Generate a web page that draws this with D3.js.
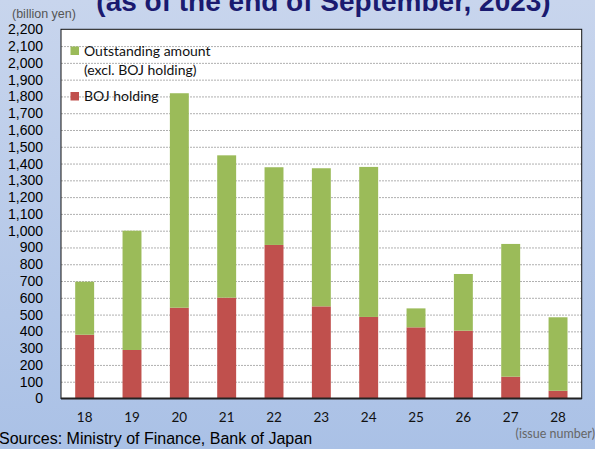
<!DOCTYPE html>
<html>
<head>
<meta charset="utf-8">
<script src="https://cdn.jsdelivr.net/npm/d3@7"></script>
<style>
  html, body { margin: 0; padding: 0; overflow: hidden; }
  svg { display: block; }
</style>
</head>
<body>
<svg id="chart" width="595" height="449"></svg>
<script>
// ---- data ----
const categories = ["18", "19", "20", "21", "22", "23", "24", "25", "26", "27", "28"];
const bojHolding = [380, 289, 541, 601, 915, 549, 486, 424, 404, 130, 46];
const outstandingExclBoj = [316, 711, 1278, 848, 463, 823, 894, 113, 338, 791, 438];
const yTicks = [0, 100, 200, 300, 400, 500, 600, 700, 800, 900, 1000, 1100, 1200, 1300, 1400, 1500, 1600, 1700, 1800, 1900, 2000, 2100, 2200];
const seriesNames = ["Outstanding amount", "BOJ holding"];
const titleText = "(as of the end of September, 2023)";
const unitText = "(billion yen)";
const xUnitText = "(issue number)";
const sourceText = "Sources: Ministry of Finance, Bank of Japan";

const colors = { outstanding: "#9bbb59", boj: "#c0504d" };

const W = 595, H = 449;
const plot = { left: 61, right: 581.7, top: 29.3, bottom: 398.5 };

const svg = d3.select("#chart");

// background gradient
const defs = svg.append("defs");
const grad = defs.append("linearGradient").attr("id", "bg").attr("x1", 0).attr("y1", 0).attr("x2", 0).attr("y2", 1);
grad.append("stop").attr("offset", "0%").attr("stop-color", "#c8d5ed");
grad.append("stop").attr("offset", "100%").attr("stop-color", "#aac1e6");
svg.append("rect").attr("width", W).attr("height", H).attr("fill", "url(#bg)");

// scales
const x = d3.scaleBand().domain(categories).range([plot.left, plot.right]).paddingInner(0.6).paddingOuter(0.3);
const y = d3.scaleLinear().domain([0, 2200]).range([plot.bottom, plot.top]);

// plot background
svg.append("rect")
  .attr("x", plot.left).attr("y", plot.top)
  .attr("width", plot.right - plot.left).attr("height", plot.bottom - plot.top)
  .attr("fill", "#ffffff");

// gridlines
const grid = svg.append("g")
  .attr("transform", `translate(${plot.left},0)`)
  .call(d3.axisLeft(y).tickValues(yTicks.filter(v => v > 0 && v < 2200)).tickSize(-(plot.right - plot.left)).tickFormat(""));
grid.select(".domain").remove();
grid.selectAll("line").attr("stroke", "#b0b0b0").attr("stroke-width", 1).attr("stroke-dasharray", "2,1");

// stacked data
const stackData = categories.map((c, i) => ({ cat: c, boj: bojHolding[i], out: outstandingExclBoj[i] }));
const stack = d3.stack().keys(["boj", "out"]);
const layers = stack(stackData);
const layerColors = [colors.boj, colors.outstanding];

svg.append("g").selectAll("g").data(layers).join("g")
  .attr("fill", (d, i) => layerColors[i])
  .selectAll("rect").data(d => d).join("rect")
  .attr("x", d => x(d.data.cat))
  .attr("width", x.bandwidth())
  .attr("y", d => y(d[1]))
  .attr("height", d => y(d[0]) - y(d[1]));

// plot border
svg.append("rect")
  .attr("x", plot.left).attr("y", plot.top)
  .attr("width", plot.right - plot.left).attr("height", plot.bottom - plot.top)
  .attr("fill", "none").attr("stroke", "#111").attr("stroke-width", 1);
svg.append("line")
  .attr("x1", plot.left).attr("x2", plot.right)
  .attr("y1", plot.bottom).attr("y2", plot.bottom)
  .attr("stroke", "#222").attr("stroke-width", 2);

// y axis labels
const yAxis = svg.append("g")
  .attr("transform", `translate(43,0)`)
  .call(d3.axisLeft(y).tickValues(yTicks).tickSize(0).tickPadding(0).tickFormat(d3.format(",")));
yAxis.select(".domain").remove();
yAxis.selectAll("text")
  .attr("font-family", "Liberation Sans, Arial, sans-serif")
  .attr("font-size", 14).attr("fill", "#000");

// x axis labels
const xAxis = svg.append("g")
  .attr("transform", `translate(0,${plot.bottom})`)
  .call(d3.axisBottom(x).tickSize(0).tickPadding(14));
xAxis.select(".domain").remove();
xAxis.selectAll("text")
  .attr("font-family", "Lato, sans-serif")
  .attr("font-size", 13.5).attr("fill", "#111");

// title
svg.append("text")
  .attr("x", 323.5).attr("y", 11)
  .attr("text-anchor", "middle")
  .attr("font-family", "Liberation Sans, Arial, sans-serif")
  .attr("font-weight", "bold").attr("font-size", 28)
  .attr("fill", "#1a1a70")
  .text(titleText);

// unit label
svg.append("text")
  .attr("x", 12).attr("y", 17.5)
  .attr("font-family", "Liberation Sans, Arial, sans-serif")
  .attr("font-size", 12.5).attr("fill", "#555")
  .text(unitText);

// x unit
svg.append("text")
  .attr("x", 595).attr("y", 438)
  .attr("text-anchor", "end")
  .attr("font-family", "Lato, sans-serif")
  .attr("font-size", 12.5).attr("fill", "#666")
  .text(xUnitText);

// sources
svg.append("text")
  .attr("x", -1).attr("y", 444)
  .attr("font-family", "Liberation Sans, Arial, sans-serif")
  .attr("font-size", 16).attr("fill", "#000")
  .text(sourceText);

// legend
const lg = svg.append("g").attr("font-family", "Lato, sans-serif").attr("font-size", 14).attr("fill", "#111");
lg.append("rect").attr("x", 70.5).attr("y", 46.5).attr("width", 8.5).attr("height", 8.5).attr("fill", colors.outstanding);
lg.append("text").attr("x", 84).attr("y", 55.5).text(seriesNames[0]);
lg.append("text").attr("x", 84).attr("y", 75).text("(excl. BOJ holding)");
lg.append("rect").attr("x", 70.5).attr("y", 92).attr("width", 8.5).attr("height", 8.5).attr("fill", colors.boj);
lg.append("text").attr("x", 84).attr("y", 101).text(seriesNames[1]);
</script>
</body>
</html>
